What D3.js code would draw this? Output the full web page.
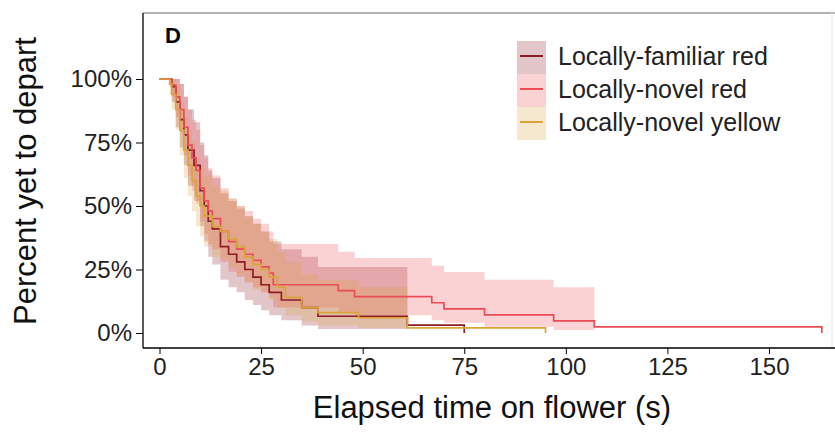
<!DOCTYPE html>
<html>
<head>
<meta charset="utf-8">
<script src="https://cdn.jsdelivr.net/npm/d3@7"></script>
<style>
  body { margin: 0; background: #fff; }
  text { font-family: "Liberation Sans", Arial, sans-serif; }
</style>
</head>
<body>
<div id="chart"></div>
<script>
var width = 835
var height = 434

var groups = ['Locally-familiar red', 'Locally-novel red', 'Locally-novel yellow']
var lineColors = ['#8c1c26', '#ea4b55', '#dca33a']

// Kaplan-Meier steps (time in s, survival fraction)
var famTime = [0, 3, 4, 5, 6, 7, 8.5, 10, 11, 12, 13, 15, 17, 19, 21, 23, 25, 27, 30, 35, 39, 61, 75]
var famSurv = [1, 0.97, 0.91, 0.84, 0.78, 0.72, 0.66, 0.56, 0.5, 0.44, 0.41, 0.34, 0.31, 0.28, 0.25, 0.22, 0.19, 0.16, 0.13, 0.1, 0.066, 0.031, 0]
var famLo = [1, 0.91, 0.81, 0.73, 0.66, 0.58, 0.52, 0.42, 0.36, 0.3, 0.27, 0.21, 0.18, 0.16, 0.13, 0.11, 0.09, 0.07, 0.05, 0.03, 0.016, null, null]
var famHi = [1, 1, 1, 0.98, 0.93, 0.88, 0.83, 0.75, 0.7, 0.64, 0.61, 0.55, 0.52, 0.49, 0.46, 0.43, 0.4, 0.36, 0.33, 0.3, 0.26, null, null]

var redTime = [0, 3, 4, 5, 6, 7, 8, 9, 10, 11, 12, 13, 15, 17, 19, 21, 23, 25, 27, 28, 44, 48, 67, 70, 80, 97, 107, 163]
var redSurv = [1, 0.976, 0.93, 0.88, 0.81, 0.74, 0.69, 0.64, 0.57, 0.52, 0.48, 0.45, 0.4, 0.36, 0.33, 0.31, 0.286, 0.26, 0.236, 0.19, 0.167, 0.143, 0.119, 0.095, 0.071, 0.048, 0.024, 0]
var redLo = [1, 0.93, 0.85, 0.79, 0.7, 0.62, 0.56, 0.51, 0.44, 0.39, 0.35, 0.33, 0.28, 0.24, 0.22, 0.2, 0.18, 0.16, 0.14, 0.1, 0.08, 0.07, 0.05, 0.04, 0.025, 0.012, null, null]
var redHi = [1, 1, 1, 0.98, 0.93, 0.88, 0.84, 0.8, 0.74, 0.69, 0.65, 0.62, 0.57, 0.53, 0.5, 0.48, 0.45, 0.43, 0.4, 0.35, 0.32, 0.295, 0.265, 0.24, 0.21, 0.18, null, null]

var yelTime = [0, 2.5, 3, 4, 5, 6, 7, 8, 9, 10, 11, 13, 15, 17, 19, 21, 23, 25, 27, 29, 31, 35, 39, 49, 61, 95]
var yelSurv = [1, 0.98, 0.94, 0.88, 0.8, 0.72, 0.66, 0.6, 0.54, 0.5, 0.46, 0.42, 0.4, 0.37, 0.34, 0.3, 0.27, 0.25, 0.22, 0.18, 0.14, 0.1, 0.08, 0.06, 0.02, 0]
var yelLo = [1, 0.94, 0.88, 0.8, 0.7, 0.61, 0.54, 0.48, 0.42, 0.38, 0.34, 0.3, 0.29, 0.26, 0.23, 0.2, 0.17, 0.16, 0.13, 0.1, 0.07, 0.045, 0.03, 0.02, null, null]
var yelHi = [1, 1, 1, 0.97, 0.91, 0.85, 0.8, 0.75, 0.69, 0.66, 0.62, 0.58, 0.56, 0.53, 0.5, 0.46, 0.43, 0.4, 0.37, 0.32, 0.28, 0.23, 0.21, 0.18, null, null]

var xTicks = [0, 25, 50, 75, 100, 125, 150]
var yTicks = [0, 0.25, 0.5, 0.75, 1]

var series = [
  { time: famTime, surv: famSurv, lo: famLo, hi: famHi },
  { time: redTime, surv: redSurv, lo: redLo, hi: redHi },
  { time: yelTime, surv: yelSurv, lo: yelLo, hi: yelHi }
]

var xScale = d3.scaleLinear().domain([0, 150]).range([159.5, 769])
var yScale = d3.scaleLinear().domain([0, 1]).range([333, 79])

var svg = d3.select('#chart').append('svg')
  .attr('width', width)
  .attr('height', height)

// panel frame from the original figure
svg.append('line')
  .attr('x1', 143).attr('x2', 835).attr('y1', 13).attr('y2', 13)
  .attr('stroke', '#9a9a9a').attr('stroke-width', 1.5)
svg.append('line')
  .attr('x1', 832).attr('x2', 832).attr('y1', 13).attr('y2', 348)
  .attr('stroke', '#e4e4e4').attr('stroke-width', 1)

var area = d3.area()
  .curve(d3.curveStepAfter)
  .x(function (d) { return xScale(d.t) })
  .y0(function (d) { return yScale(d.lo) })
  .y1(function (d) { return yScale(d.hi) })

var line = d3.line()
  .curve(d3.curveStepAfter)
  .x(function (d) { return xScale(d.t) })
  .y(function (d) { return yScale(d.s) })

series.forEach(function (s, k) {
  var pts = []
  for (var i = 0; i < s.time.length; i++) {
    if (s.lo[i] == null) {
      var last = pts[pts.length - 1]
      pts.push({ t: s.time[i], lo: last.lo, hi: last.hi })
      break
    }
    pts.push({ t: s.time[i], lo: s.lo[i], hi: s.hi[i] })
  }
  svg.append('path')
    .datum(pts)
    .attr('d', area)
    .attr('fill', lineColors[k])
    .attr('fill-opacity', 0.25)
})

series.forEach(function (s, k) {
  var pts = s.time.map(function (t, i) { return { t: t, s: s.surv[i] } })
  svg.append('path')
    .datum(pts)
    .attr('d', line)
    .attr('fill', 'none')
    .attr('stroke', lineColors[k])
    .attr('stroke-width', 1.7)
})

var xAxis = d3.axisBottom(xScale).tickValues(xTicks).tickSize(6).tickPadding(4)
var yAxis = d3.axisLeft(yScale).tickValues(yTicks).tickSize(7).tickPadding(4)
  .tickFormat(function (d) { return Math.round(d * 100) + '%' })

var gx = svg.append('g')
  .attr('transform', 'translate(0,348)')
  .call(xAxis)
gx.select('.domain').attr('d', 'M143,0H835').attr('stroke', '#000').attr('stroke-width', 1.3)
gx.selectAll('text').attr('font-size', 24).attr('fill', '#222')

var gy = svg.append('g')
  .attr('transform', 'translate(143,0)')
  .call(yAxis)
gy.select('.domain').attr('d', 'M0,13V348').attr('stroke', '#000').attr('stroke-width', 1.3)
gy.selectAll('text').attr('font-size', 24).attr('fill', '#222')

svg.append('text')
  .attr('x', 492).attr('y', 418)
  .attr('text-anchor', 'middle')
  .attr('font-size', 31)
  .attr('fill', '#111')
  .text('Elapsed time on flower (s)')

svg.append('text')
  .attr('transform', 'translate(36,181) rotate(-90)')
  .attr('text-anchor', 'middle')
  .attr('font-size', 31)
  .attr('fill', '#111')
  .text('Percent yet to depart')

svg.append('text')
  .attr('x', 165).attr('y', 43)
  .attr('font-size', 22)
  .attr('font-weight', 'bold')
  .attr('fill', '#000')
  .text('D')

// legend
var legend = svg.append('g').attr('transform', 'translate(517,41)')
var rows = legend.selectAll('g').data(groups).enter().append('g')
  .attr('transform', function (d, i) { return 'translate(0,' + (i * 33) + ')' })
rows.append('rect')
  .attr('width', 29).attr('height', 33)
  .attr('fill', function (d, i) { return lineColors[i] })
  .attr('fill-opacity', 0.25)
rows.append('line')
  .attr('x1', 3).attr('x2', 26).attr('y1', 15).attr('y2', 15)
  .attr('stroke', function (d, i) { return lineColors[i] })
  .attr('stroke-width', 2)
rows.append('text')
  .attr('x', 41).attr('y', 15).attr('dy', '0.35em')
  .attr('font-size', 25)
  .attr('fill', '#222')
  .text(function (d) { return d })
</script>
</body>
</html>
